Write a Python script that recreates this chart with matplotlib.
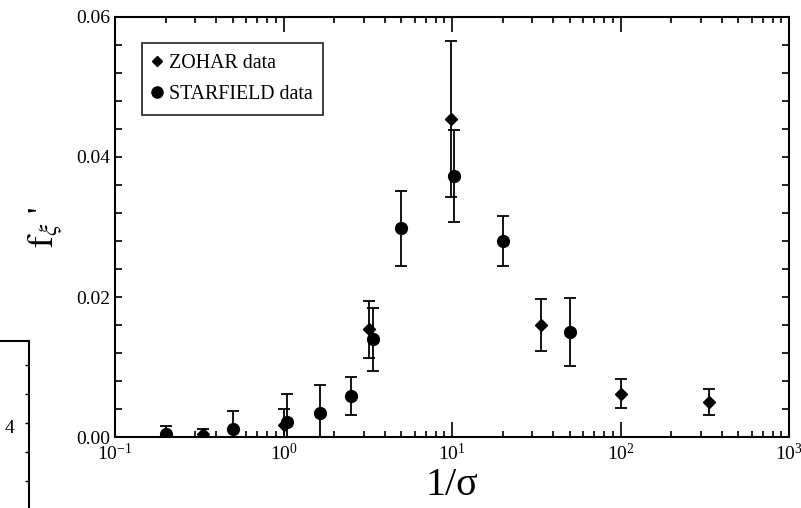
import matplotlib
matplotlib.use("Agg")
import matplotlib.pyplot as plt
from matplotlib.lines import Line2D
from matplotlib.ticker import LogLocator, FixedLocator, MultipleLocator, NullFormatter, FormatStrFormatter

plt.rcParams['font.family'] = ['Liberation Serif', 'DejaVu Serif']
plt.rcParams['mathtext.fontset'] = 'stix'

# ---- data ----
zohar_x = [0.333, 1.0, 3.23, 9.87, 33.6, 100, 336]
zohar_y = [0.0005, 0.0017, 0.0154, 0.0454, 0.0160, 0.0062, 0.0050]
zohar_err = [0.0007, 0.0023, 0.0041, 0.0111, 0.0037, 0.0021, 0.0018]

starfield_x = [0.2, 0.5, 1.05, 1.65, 2.5, 3.4, 5.0, 10.3, 20, 50]
starfield_y = [0.0005, 0.0012, 0.0021, 0.0035, 0.0059, 0.0140, 0.0298, 0.0373, 0.0280, 0.0150]
starfield_err = [0.0011, 0.0025, 0.0041, 0.0040, 0.0027, 0.0045, 0.0054, 0.0066, 0.0036, 0.0048]

legend_labels = ['ZOHAR data', 'STARFIELD data']
y_ticks = [0.00, 0.02, 0.04, 0.06]

fig = plt.figure(figsize=(8.01, 5.08), dpi=100)
ax = fig.add_axes([115/801, 71/508, 674/801, 420/508])

ax.errorbar(zohar_x, zohar_y, yerr=zohar_err, fmt='D', ms=6, color='black',
            ecolor='black', elinewidth=1.3, capsize=4, capthick=1.3, zorder=3)
ax.errorbar(starfield_x, starfield_y, yerr=starfield_err, fmt='o', ms=8.5, color='black',
            ecolor='black', elinewidth=1.3, capsize=4, capthick=1.3, zorder=3)

ax.set_xscale('log')
ax.set_xlim(0.1, 1000)
ax.set_ylim(0, 0.06)
ax.set_yticks(y_ticks)
ax.yaxis.set_major_formatter(FormatStrFormatter('%.2f'))
ax.yaxis.set_minor_locator(MultipleLocator(0.004))
ax.xaxis.set_major_locator(LogLocator(base=10, numticks=10))
ax.xaxis.set_minor_locator(LogLocator(base=10, subs=range(2, 10), numticks=20))
ax.xaxis.set_minor_formatter(NullFormatter())

ax.tick_params(axis='both', which='both', direction='in', top=True, right=True,
               labelsize=14, color='black', width=1.2)
ax.tick_params(axis='x', which='major', length=11, pad=4)
ax.tick_params(axis='x', which='minor', length=4)
ax.tick_params(axis='y', which='both', length=5)
for s in ax.spines.values():
    s.set_linewidth(1.5)

ax.set_xlabel('1/σ', fontsize=29, labelpad=2)
ax.set_ylabel(r"$\mathrm{f}_{\xi}$ '", fontsize=26, labelpad=8)

handles = [Line2D([], [], marker='D', ms=5, color='black', ls='none'),
           Line2D([], [], marker='o', ms=8, color='black', ls='none')]
leg = ax.legend(handles, legend_labels, loc='upper left', bbox_to_anchor=(0.0396, 0.937),
                borderaxespad=0, fontsize=14.3, frameon=True, fancybox=False,
                handlelength=0.4, handletextpad=0.4, labelspacing=0.6,
                borderpad=0.55, edgecolor='black')
leg.get_frame().set_linewidth(1.3)

# fragment of neighbouring panel at left edge
fax = fig.add_axes([-0.3, -0.1, 0.3 + 29/801, (508 - 340.7)/508 + 0.1])
fax.set_xlim(0, 1)
fax.set_ylim(0, 218)
fax.set_xticks([])
fax.yaxis.tick_right()
fax.yaxis.set_major_locator(FixedLocator([20, 49, 78, 107, 136, 165, 194]))
fax.tick_params(axis='y', direction='in', length=3, labelright=False, width=1)
for s in fax.spines.values():
    s.set_linewidth(1.5)
fig.text(14/801, 1 - 433/508, '4', fontsize=14, ha='right', va='baseline')

fig.savefig('out.png', dpi=100)
